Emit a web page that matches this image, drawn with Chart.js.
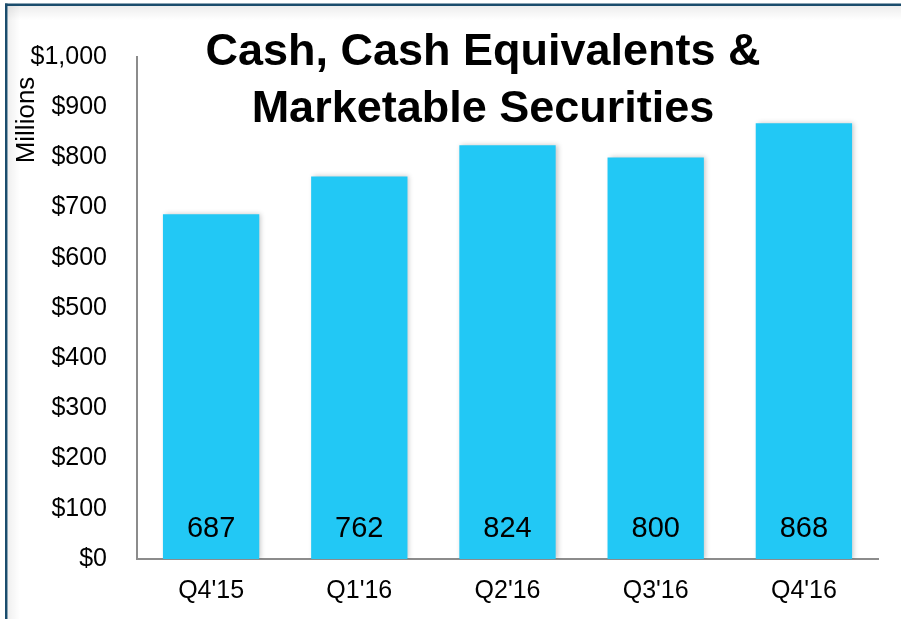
<!DOCTYPE html>
<html>
<head>
<meta charset="utf-8">
<script src="https://cdn.jsdelivr.net/npm/chart.js@4"></script>
<style>
  html, body { margin: 0; padding: 0; background: #fff; overflow: hidden; }
  #wrap { position: relative; width: 901px; height: 619px; }
  canvas { display: block; }
</style>
</head>
<body>
<div id="wrap"><canvas id="chart" width="901" height="619"></canvas></div>
<script>
const quarters = ["Q4'15", "Q1'16", "Q2'16", "Q3'16", "Q4'16"];
const cashValues = [687, 762, 824, 800, 868];
const titleLines = ['Cash, Cash Equivalents &', 'Marketable Securities'];
const unitLabel = 'Millions';

const FONT = '"Liberation Sans", Arial, Helvetica, sans-serif';
const BAR_COLOR = '#22c8f5';

// Frame, title, unit label and the value labels inside the bars
const decorations = {
  id: 'decorations',
  beforeDraw(chart) {
    const ctx = chart.ctx;
    ctx.save();
    ctx.fillStyle = '#fff';
    ctx.fillRect(0, 0, chart.width, chart.height);
    // soft inner shadow along the frame
    let g = ctx.createLinearGradient(0, 6, 0, 20);
    g.addColorStop(0, 'rgba(0,0,0,0.07)');
    g.addColorStop(1, 'rgba(0,0,0,0)');
    ctx.fillStyle = g;
    ctx.fillRect(7, 6, chart.width, 14);
    g = ctx.createLinearGradient(8, 0, 20, 0);
    g.addColorStop(0, 'rgba(0,0,0,0.06)');
    g.addColorStop(1, 'rgba(0,0,0,0)');
    ctx.fillStyle = g;
    ctx.fillRect(8, 6, 12, chart.height);
    ctx.fillStyle = '#1b4d6d';
    ctx.fillRect(5, 3.5, chart.width, 2.5);
    ctx.fillRect(5, 3.5, 2.5, chart.height);
    ctx.restore();
  },
  beforeDatasetsDraw(chart) {
    const ctx = chart.ctx;
    ctx.save();
    ctx.shadowColor = 'rgba(0,0,0,0.22)';
    ctx.shadowBlur = 5;
    ctx.shadowOffsetX = 2;
    ctx.shadowOffsetY = 0;
  },
  afterDatasetsDraw(chart) {
    chart.ctx.restore();
    const ctx = chart.ctx;
    const meta = chart.getDatasetMeta(0);
    const yScale = chart.scales.y;
    ctx.save();
    ctx.fillStyle = '#000';
    ctx.font = '29px ' + FONT;
    ctx.textAlign = 'center';
    ctx.textBaseline = 'middle';
    meta.data.forEach((bar, i) => {
      ctx.fillText(String(cashValues[i]), bar.x, yScale.bottom - 30);
    });
    ctx.restore();
  },
  afterDraw(chart) {
    const ctx = chart.ctx;
    ctx.save();
    ctx.fillStyle = '#000';
    ctx.font = 'bold 45px ' + FONT;
    ctx.textAlign = 'center';
    ctx.textBaseline = 'alphabetic';
    ctx.fillText(titleLines[0], 483, 65);
    ctx.fillText(titleLines[1], 483, 122);
    // rotated unit label left of the value axis
    ctx.font = '26px ' + FONT;
    ctx.textBaseline = 'middle';
    ctx.translate(27, 120);
    ctx.rotate(-Math.PI / 2);
    ctx.fillText(unitLabel, 0, 0);
    ctx.restore();
  }
};

new Chart(document.getElementById('chart'), {
  type: 'bar',
  data: {
    labels: quarters,
    datasets: [{
      data: cashValues,
      backgroundColor: BAR_COLOR,
      borderWidth: 0,
      barPercentage: 0.65,
      categoryPercentage: 1
    }]
  },
  options: {
    responsive: false,
    animation: false,
    devicePixelRatio: 1,
    layout: { padding: { left: 0, top: 57, right: 23, bottom: 0 } },
    plugins: {
      legend: { display: false },
      tooltip: { enabled: false }
    },
    scales: {
      x: {
        grid: { display: false, drawTicks: false },
        border: { display: true, color: '#8c8c8c', width: 2 },
        ticks: { color: '#000', font: { family: FONT, size: 25 }, padding: 17 },
        afterFit(scale) { scale.height = 60; }
      },
      y: {
        min: 0,
        max: 1000,
        grid: { display: false, drawTicks: false },
        border: { display: true, color: '#8c8c8c', width: 2 },
        ticks: {
          stepSize: 100,
          color: '#000',
          font: { family: FONT, size: 25 },
          padding: 30,
          callback: v => '$' + v.toLocaleString('en-US')
        },
        afterFit(scale) { scale.width = 137; }
      }
    }
  },
  plugins: [decorations]
});
</script>
</body>
</html>
